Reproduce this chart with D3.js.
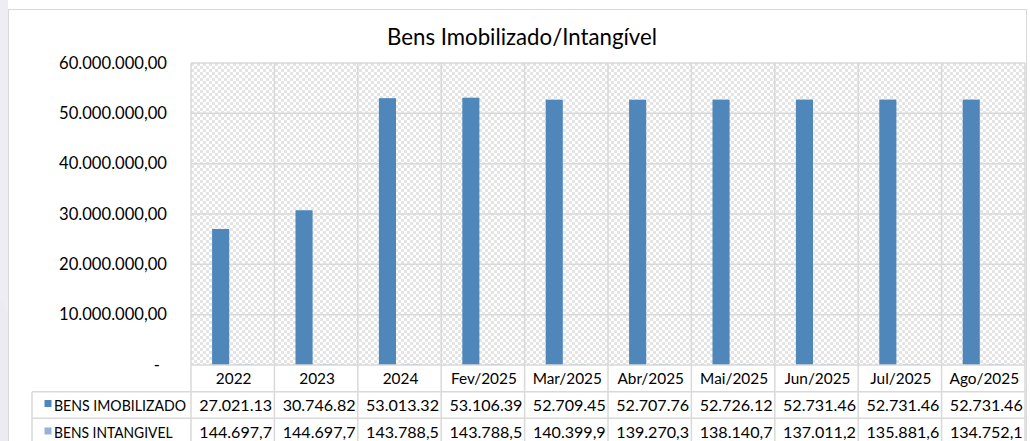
<!DOCTYPE html>
<html>
<head>
<meta charset="utf-8">
<script src="https://cdn.jsdelivr.net/npm/d3@7"></script>
<style>
  html, body { margin: 0; padding: 0; background: #fff; }
  svg { display: block; font-family: Lato, "Open Sans", sans-serif; }
</style>
</head>
<body>
<svg id="chart" width="1030" height="441"></svg>
<script>
const categories = ["2022", "2023", "2024", "Fev/2025", "Mar/2025", "Abr/2025", "Mai/2025", "Jun/2025", "Jul/2025", "Ago/2025"];
const seriesNames = ["BENS IMOBILIZADO", "BENS INTANGIVEL"];
const bensImobilizado = [27021130, 30746820, 53013320, 53106390, 52709450, 52707760, 52726120, 52731460, 52731460, 52731460];
const bensIntangivel = [144697.7, 144697.7, 143788.5, 143788.5, 140399.9, 139270.3, 138140.7, 137011.2, 135881.6, 134752.1];
const yTicks = [0, 10000000, 20000000, 30000000, 40000000, 50000000, 60000000];
const title = "Bens Imobilizado/Intangível";
const colors = ["#4f87bb", "#95b3d7"];

const svg = d3.select("#chart");
const W = 1030, H = 441;
const plot = { left: 191, right: 1025, top: 63, bottom: 365 };

// font-size calibration helper: find size giving a target width
function fitSize(str, target, base) {
  const t = svg.append("text").attr("font-size", base).text(str);
  const w = t.node().getComputedTextLength();
  t.remove();
  return w > 0 ? base * target / w : base;
}

// left faint background strip / watermark
svg.append("rect").attr("x", 0).attr("y", 0).attr("width", 8).attr("height", H).attr("fill", "#efedf4");
svg.append("path")
  .attr("d", "M0,300 C20,330 26,380 10,441 L0,441 Z")
  .attr("fill", "#eceaf2");

// chart outer border
svg.append("rect").attr("x", 8.5).attr("y", 9.5).attr("width", 1018).attr("height", 450)
  .attr("fill", "#fff").attr("stroke", "#d9d9d9").attr("stroke-width", 1);

// checker pattern
const defs = svg.append("defs");
const pat = defs.append("pattern").attr("id", "checker").attr("patternUnits", "userSpaceOnUse")
  .attr("width", 6).attr("height", 6).attr("x", plot.left).attr("y", plot.top);
pat.append("rect").attr("width", 6).attr("height", 6).attr("fill", "#ffffff");
pat.append("rect").attr("x", 0).attr("y", 0).attr("width", 3).attr("height", 3).attr("fill", "#e4e4e4");
pat.append("rect").attr("x", 3).attr("y", 3).attr("width", 3).attr("height", 3).attr("fill", "#e4e4e4");

svg.append("rect").attr("x", plot.left).attr("y", plot.top)
  .attr("width", plot.right - plot.left).attr("height", plot.bottom - plot.top)
  .attr("fill", "url(#checker)");

const x = d3.scaleBand().domain(categories).range([plot.left, plot.right]).padding(0);
const xs = d3.scaleBand().domain(seriesNames).range([0, x.bandwidth()]).paddingInner(0.29).paddingOuter(0.875);
const y = d3.scaleLinear().domain([0, 60000000]).range([plot.bottom, plot.top]);

// horizontal gridlines
svg.append("g").selectAll("line").data(yTicks.filter(d => d > 0)).join("line")
  .attr("x1", plot.left).attr("x2", plot.right)
  .attr("y1", d => y(d)).attr("y2", d => y(d))
  .attr("stroke", "#d9d9d9").attr("stroke-width", 1.5);

// table geometry
const rowTop = [plot.bottom, 391.7, 418.3, 445];
const tableLeft = 32;

// vertical gridlines (plot + table)
const bounds = categories.map(c => x(c)).concat([plot.right]);
svg.append("g").selectAll("line").data(bounds).join("line")
  .attr("x1", d => d).attr("x2", d => d)
  .attr("y1", plot.top).attr("y2", H)
  .attr("stroke", "#d9d9d9").attr("stroke-width", 1.5);

// bars
const seriesData = [bensImobilizado, bensIntangivel];
seriesData.forEach((vals, si) => {
  svg.append("g").selectAll("rect").data(vals).join("rect")
    .attr("x", (d, i) => x(categories[i]) + xs(seriesNames[si]))
    .attr("width", xs.bandwidth())
    .attr("y", d => y(d))
    .attr("height", d => y(0) - y(d))
    .attr("fill", colors[si]);
});

// baseline & table horizontal lines
svg.append("line").attr("x1", plot.left).attr("x2", plot.right).attr("y1", plot.bottom).attr("y2", plot.bottom)
  .attr("stroke", "#d9d9d9").attr("stroke-width", 1.5);
svg.append("g").selectAll("line").data(rowTop.slice(1)).join("line")
  .attr("x1", tableLeft).attr("x2", plot.right)
  .attr("y1", d => d).attr("y2", d => d)
  .attr("stroke", "#d9d9d9").attr("stroke-width", 1.5);
svg.append("line").attr("x1", tableLeft).attr("x2", tableLeft).attr("y1", rowTop[1]).attr("y2", H)
  .attr("stroke", "#d9d9d9").attr("stroke-width", 1.5);

// y axis labels
const fmtBR = d3.formatLocale({ decimal: ",", thousands: ".", grouping: [3], currency: ["R$", ""] });
const fmt2 = fmtBR.format(",.2f");
const ySize = fitSize(fmt2(60000000), 108, 15);
svg.append("g").selectAll("text").data(yTicks).join("text")
  .attr("x", d => d === 0 ? 160 : 167)
  .attr("y", d => y(d) + 5.5)
  .attr("text-anchor", "end")
  .attr("font-size", ySize)
  .attr("fill", "#000")
  .text(d => d === 0 ? "-" : fmt2(d));

// title
const tSize = fitSize(title, 270, 18);
svg.append("text").attr("x", 522).attr("y", 45).attr("text-anchor", "middle")
  .attr("font-size", tSize).attr("fill", "#000").text(title);

// category labels (table header)
const cSize = fitSize(categories[0], 35.7, 15);
svg.append("g").selectAll("text").data(categories).join("text")
  .attr("x", d => x(d) + x.bandwidth() / 2 + 1)
  .attr("y", 384)
  .attr("text-anchor", "middle")
  .attr("font-size", cSize)
  .attr("fill", "#000")
  .text(d => d);

// legend column + value rows
const rowBase = [410.7, 438.2];
const legendWidths = [132, 118.5];
const vSize = fitSize("27.021.13", 73, 15);
seriesNames.forEach((name, si) => {
  svg.append("rect").attr("x", 44.5).attr("y", rowBase[si] - 10.7).attr("width", 7).attr("height", 7).attr("fill", colors[si]);
  svg.append("text").attr("x", 54).attr("y", rowBase[si]).attr("font-size", 15).attr("fill", "#000")
    .attr("textLength", legendWidths[si]).attr("lengthAdjust", "spacingAndGlyphs")
    .text(name);
  svg.append("g").selectAll("text").data(seriesData[si]).join("text")
    .attr("x", (d, i) => x(categories[i]) + x.bandwidth() / 2 + 3)
    .attr("y", rowBase[si])
    .attr("text-anchor", "middle")
    .attr("font-size", vSize)
    .attr("fill", "#000")
    .text(d => fmt2(d).substring(0, 9));
});
</script>
</body>
</html>
